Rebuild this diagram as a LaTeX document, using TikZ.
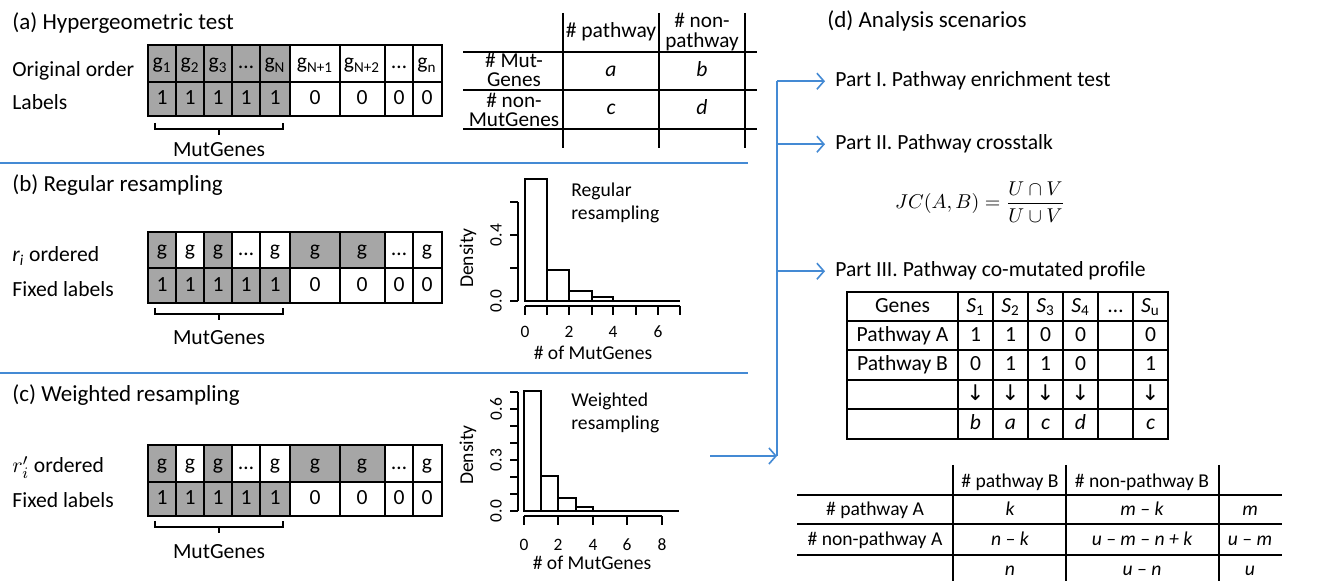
\documentclass[tikz,border=0pt]{standalone}
\usepackage{fontspec}
\setmainfont{Carlito}
\newfontfamily\arrowfont{DejaVu Sans}
\usetikzlibrary{arrows.meta}

\definecolor{cellgray}{RGB}{166,166,166}
\definecolor{linkblue}{RGB}{68,138,212}

\tikzset{
  gridline/.style={line width=1pt},
  cell/.style={inner sep=0pt, text height=1.5ex, text depth=.3ex},
  twoline/.style={inner sep=0pt, align=center, font=\fontsize{10.6}{9.8}\selectfont},
  lbl/.style={anchor=base west, inner sep=0pt},
  ttl/.style={anchor=base west, inner sep=0pt, font=\fontsize{11.5}{13}\selectfont},
  histtxt/.style={inner sep=0pt, font=\fontsize{9.8}{11}\selectfont},
  ticklbl/.style={inner sep=0pt, font=\fontsize{8.7}{10}\selectfont},
  smalltab/.style={inner sep=0pt, text height=1.5ex, text depth=.3ex, font=\fontsize{9.8}{11}\selectfont},
  histline/.style={line width=0.8pt},
  bracket/.style={line width=0.6pt},
  sepline/.style={draw=linkblue, line width=0.8pt},
  flow/.style={draw=linkblue, line width=0.8pt, -{Straight Barb[length=3.5pt,width=8pt]}},
}

\begin{document}
\begin{tikzpicture}[x=0.5pt, y=-0.5pt, font=\fontsize{10.8}{12}\selectfont]
  \useasboundingbox (0,0) rectangle (1324,581);

  % (a) hypergeometric test
  \node[ttl] (ttla) at (12,30) {(a) Hypergeometric test};
  \node[lbl] (rowa1) at (12,77) {Original order};
  \node[lbl] (rowa2) at (12,110) {Labels};
  \fill[cellgray] (148,45) rectangle (290,116);
  \draw[gridline] (148,45) rectangle (442,116) (148,82) -- (442,82);
  \foreach \x in {176,204,232,260,290,340,385,413} { \draw[gridline] (\x,45) -- (\x,116); }
  \foreach \x/\t [count=\i] in {162/g\textsubscript{1},190/g\textsubscript{2},218/g\textsubscript{3},246/…,275/g\textsubscript{N},315/g\textsubscript{N+1},362/g\textsubscript{N+2},399/…,427/g\textsubscript{n}} {
    \node[cell] (ga\i) at (\x,63) {\t};
  }
  \foreach \x/\t [count=\i] in {162/1,190/1,218/1,246/1,275/1,315/0,362/0,399/0,427/0} {
    \node[cell] (la\i) at (\x,99) {\t};
  }
  \draw[bracket] (155,123) -- (155,129) -- (283,129) -- (283,123) (219,129) -- (219,135);
  \node (mga) at (219,150) {MutGenes};

  % 2x2 table
  \foreach \x in {563,659,745} { \draw[gridline] (\x,13) -- (\x,148); }
  \foreach \y in {52,90,129} { \draw[gridline] (463,\y) -- (757,\y); }
  \node[cell] (hpw) at (611,32) {\# pathway};
  \node[twoline] (hnp) at (702,32) {\# non-\\pathway};
  \node[twoline] (rmut) at (514,70) {\# Mut-\\Genes};
  \node[twoline] (rnon) at (514,110) {\# non-\\MutGenes};
  \node[cell] (ta) at (611,71) {\itshape a};
  \node[cell] (tb) at (702,71) {\itshape b};
  \node[cell] (tc) at (611,109) {\itshape c};
  \node[cell] (td) at (702,109) {\itshape d};

  % blue separators
  \draw[sepline] (0,163) -- (748,163);
  \draw[sepline] (0,373) -- (748,373);

  % (b) regular resampling
  \node[ttl] (ttlb) at (12,192) {(b) Regular resampling};
  \node[lbl] (rowb1) at (12,262) {{\itshape r\textsubscript{i}} ordered};
  \node[lbl] (rowb2) at (12,297) {Fixed labels};
  \foreach \l/\r in {148/176,204/232,290/385} { \fill[cellgray] (\l,232) rectangle (\r,268); }
  \fill[cellgray] (148,268) rectangle (290,303);
  \draw[gridline] (148,232) rectangle (442,303) (148,268) -- (442,268);
  \foreach \x in {176,204,232,260,290,340,385,413} { \draw[gridline] (\x,232) -- (\x,303); }
  \foreach \x/\t [count=\i] in {162/g,190/g,218/g,246/…,275/g,315/g,362/g,399/…,427/g} {
    \node[cell] (gb\i) at (\x,250) {\t};
  }
  \foreach \x/\t [count=\i] in {162/1,190/1,218/1,246/1,275/1,315/0,362/0,399/0,427/0} {
    \node[cell] (lb\i) at (\x,285.5) {\t};
  }
  \draw[bracket] (155,308) -- (155,314) -- (283,314) -- (283,308) (219,314) -- (219,320);
  \node (mgb) at (219,338) {MutGenes};

  % histogram, regular
  \draw[histline] (525,301) rectangle (547,179) (547,301) rectangle (569,270)
    (569,301) rectangle (592,291) (592,301) rectangle (613,297) (613,301) -- (680,301);
  \draw[histline] (525,306) -- (680,306);
  \foreach \x in {525,547,569,592,613,636,658,680} { \draw[histline] (\x,306) -- (\x,315); }
  \foreach \x/\t in {525/0,569/2,613/4,658/6} { \node[ticklbl] (xb\t) at (\x,332) {\t}; }
  \draw[histline] (518,301) -- (518,202);
  \foreach \y in {301,268,235,202} { \draw[histline] (518,\y) -- (510,\y); }
  \node[ticklbl, rotate=90] (yb0) at (496,301) {0.0};
  \node[ticklbl, rotate=90] (yb4) at (496,235) {0.4};
  \node[histtxt, rotate=90] (densb) at (468,258) {Density};
  \node[histtxt] (xlabb) at (593,353) {\# of MutGenes};
  \node[histtxt, anchor=base west] (regb1) at (571,197) {Regular};
  \node[histtxt, anchor=base west] (regb2) at (571,220) {resampling};

  % (c) weighted resampling
  \node[ttl] (ttlc) at (12,402) {(c) Weighted resampling};
  \node[lbl] (rowc1) at (12,473) {$r_i'$ ordered};
  \node[lbl] (rowc2) at (12,508) {Fixed labels};
  \foreach \l/\r in {148/176,204/232,290/385} { \fill[cellgray] (\l,445) rectangle (\r,482); }
  \fill[cellgray] (148,482) rectangle (290,516);
  \draw[gridline] (148,445) rectangle (442,516) (148,482) -- (442,482);
  \foreach \x in {176,204,232,260,290,340,385,413} { \draw[gridline] (\x,445) -- (\x,516); }
  \foreach \x/\t [count=\i] in {162/g,190/g,218/g,246/…,275/g,315/g,362/g,399/…,427/g} {
    \node[cell] (gc\i) at (\x,463.5) {\t};
  }
  \foreach \x/\t [count=\i] in {162/1,190/1,218/1,246/1,275/1,315/0,362/0,399/0,427/0} {
    \node[cell] (lc\i) at (\x,499) {\t};
  }
  \draw[bracket] (155,521) -- (155,527) -- (283,527) -- (283,521) (219,527) -- (219,533);
  \node (mgc) at (219,552) {MutGenes};

  % histogram, weighted
  \draw[histline] (524,511) rectangle (541,391) (541,511) rectangle (558,476)
    (558,511) rectangle (576,498) (576,511) rectangle (593,507) (593,511) -- (679,511);
  \draw[histline] (524,516) -- (662,516);
  \foreach \x in {524,558,593,627,662} { \draw[histline] (\x,516) -- (\x,525); }
  \foreach \x/\t in {524/0,558/2,593/4,627/6,662/8} { \node[ticklbl] (xc\t) at (\x,545) {\t}; }
  \draw[histline] (518,511) -- (518,392);
  \foreach \y in {511,494,477,460,443,426,409,392} { \draw[histline] (518,\y) -- (510,\y); }
  \node[ticklbl, rotate=90] (yc0) at (496,511) {0.0};
  \node[ticklbl, rotate=90] (yc3) at (496,460) {0.3};
  \node[ticklbl, rotate=90] (yc6) at (496,409) {0.6};
  \node[histtxt, rotate=90] (densc) at (468,455) {Density};
  \node[histtxt] (xlabc) at (592,563) {\# of MutGenes};
  \node[histtxt, anchor=base west] (wtc1) at (571,407) {Weighted};
  \node[histtxt, anchor=base west] (wtc2) at (571,430) {resampling};

  % (d) analysis scenarios
  \node[ttl] (ttld) at (827,28) {(d) Analysis scenarios};
  \node[lbl] (p1) at (835,87) {Part I. Pathway enrichment test};
  \node[lbl] (p2) at (835,150) {Part II. Pathway crosstalk};
  \node[lbl] (p3) at (835,277) {Part III. Pathway co-mutated profile};
  \node[font=\fontsize{10}{12}\selectfont] (jc) at (980,202) {$\displaystyle JC(A,B)=\frac{U\cap V}{U\cup V}$};

  % blue links
  \coordinate (cout) at (710,456);
  \coordinate (busbot) at (777,456);
  \draw[flow] (cout) -- (busbot);
  \draw[sepline] (busbot) -- (busbot |- p1.west);
  \foreach \p in {p1,p2,p3} { \draw[flow, shorten >=5pt] (busbot |- \p.west) -- (\p.west); }

  % co-mutated profile table
  \draw[gridline] (847,292) rectangle (1168,439);
  \foreach \y in {321,350,380,409} { \draw[gridline] (847,\y) -- (1168,\y); }
  \foreach \x in {958,993,1028,1063,1098,1133} { \draw[gridline] (\x,292) -- (\x,439); }
  \foreach \x/\t [count=\i] in {902.5/Genes,975.5/{\itshape S}\textsubscript{1},1010.5/{\itshape S}\textsubscript{2},1045.5/{\itshape S}\textsubscript{3},1080.5/{\itshape S}\textsubscript{4},1115.5/…,1150.5/{\itshape S}\textsubscript{u}} {
    \node[cell] (ph\i) at (\x,306.5) {\t};
  }
  \foreach \x/\t [count=\i] in {902.5/Pathway A,975.5/1,1010.5/1,1045.5/0,1080.5/0,1150.5/0} {
    \node[cell] (pa\i) at (\x,335.5) {\t};
  }
  \foreach \x/\t [count=\i] in {902.5/Pathway B,975.5/0,1010.5/1,1045.5/1,1080.5/0,1150.5/1} {
    \node[cell] (pb\i) at (\x,365) {\t};
  }
  \foreach \x [count=\i] in {975.5,1010.5,1045.5,1080.5,1150.5} {
    \node[cell] (pd\i) at (\x,394.5) {\arrowfont ↓};
  }
  \foreach \x/\t [count=\i] in {975.5/b,1010.5/a,1045.5/c,1080.5/d,1150.5/c} {
    \node[cell] (pl\i) at (\x,424) {\itshape\t};
  }

  % pathway A vs B table
  \foreach \x in {953,1066,1219} { \draw[gridline] (\x,465) -- (\x,581); }
  \foreach \y in {495,524,555} { \draw[gridline] (797,\y) -- (1282,\y); }
  \node[smalltab] (hb1) at (1010,482) {\# pathway B};
  \node[smalltab] (hb2) at (1142,482) {\# non-pathway B};
  \node[smalltab] (ra1) at (875,510) {\# pathway A};
  \node[smalltab] (ra2) at (875,540) {\# non-pathway A};
  \node[smalltab] (c11) at (1010,510) {\itshape k};
  \node[smalltab] (c12) at (1142,510) {\itshape m – k};
  \node[smalltab] (c13) at (1250,510) {\itshape m};
  \node[smalltab] (c21) at (1010,540) {\itshape n – k};
  \node[smalltab] (c22) at (1142,540) {\itshape u – m – n + k};
  \node[smalltab] (c23) at (1250,540) {\itshape u – m};
  \node[smalltab] (c31) at (1010,570) {\itshape n};
  \node[smalltab] (c32) at (1142,570) {\itshape u – n};
  \node[smalltab] (c33) at (1250,570) {\itshape u};
\end{tikzpicture}
\end{document}
